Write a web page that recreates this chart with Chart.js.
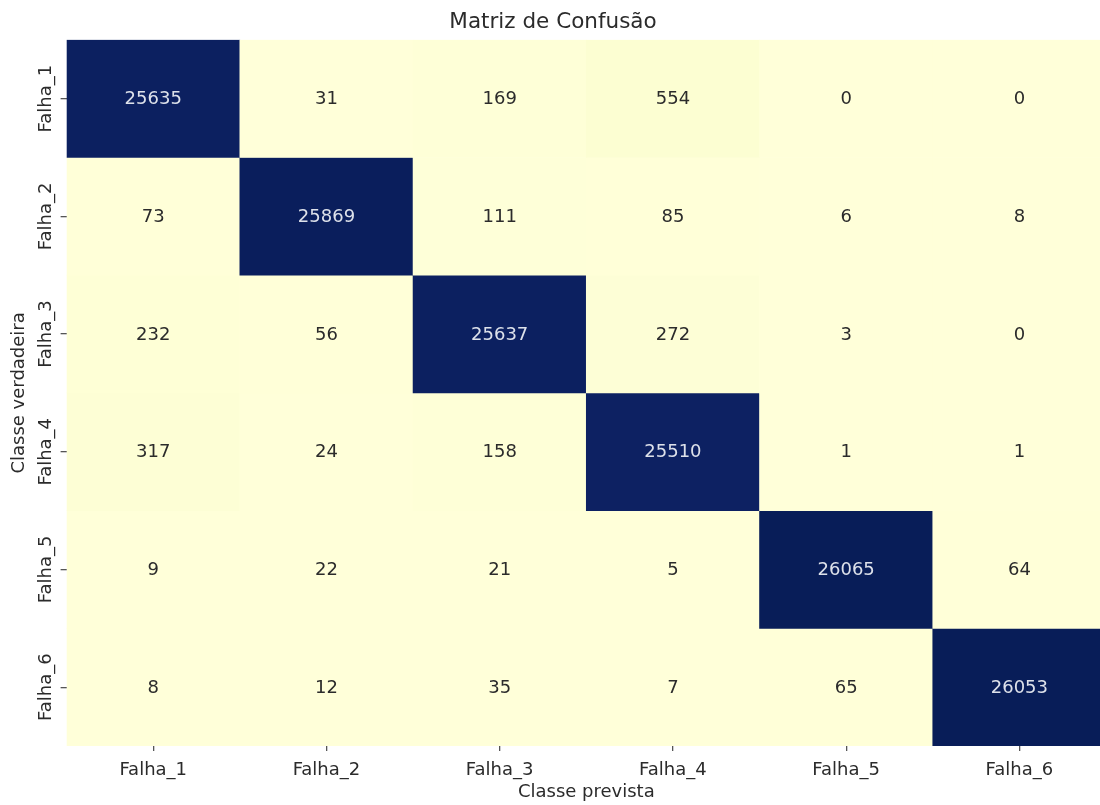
<!DOCTYPE html>
<html>
<head>
<meta charset="utf-8">
<script src="https://cdn.jsdelivr.net/npm/chart.js@4/dist/chart.umd.min.js"></script>
<style>
  html, body { margin: 0; padding: 0; background: #ffffff; overflow: hidden; }
  #wrap { width: 1100px; height: 805px; overflow: hidden; }
  #cm { display: block; }
</style>
</head>
<body>
<div id="wrap"><canvas id="cm" width="1106" height="805"></canvas></div>
<script>
// Class names (rows = true class, columns = predicted class)
const predictedLabels = ["Falha_1", "Falha_2", "Falha_3", "Falha_4", "Falha_5", "Falha_6"];
const trueLabels = ["Falha_1", "Falha_2", "Falha_3", "Falha_4", "Falha_5", "Falha_6"];

// Confusion counts, one array per true class
const rowFalha1 = [25635, 31, 169, 554, 0, 0];
const rowFalha2 = [73, 25869, 111, 85, 6, 8];
const rowFalha3 = [232, 56, 25637, 272, 3, 0];
const rowFalha4 = [317, 24, 158, 25510, 1, 1];
const rowFalha5 = [9, 22, 21, 5, 26065, 64];
const rowFalha6 = [8, 12, 35, 7, 65, 26053];

const matrix = [rowFalha1, rowFalha2, rowFalha3, rowFalha4, rowFalha5, rowFalha6];

// YlGnBu colour ramp
const ylGnBu = [
  [255, 255, 217], [237, 248, 177], [199, 233, 180], [127, 205, 187],
  [65, 182, 196], [29, 145, 192], [34, 94, 168], [37, 52, 148], [8, 29, 88]
];
const vMin = 0;
const vMax = Math.max(...matrix.flat());

function rampColor(v) {
  let t = (v - vMin) / (vMax - vMin);
  t = Math.min(1, Math.max(0, t));
  const pos = t * (ylGnBu.length - 1);
  const i = Math.min(Math.floor(pos), ylGnBu.length - 2);
  const f = pos - i;
  const a = ylGnBu[i], b = ylGnBu[i + 1];
  const c = a.map((x, k) => Math.round(x + (b[k] - x) * f));
  return `rgb(${c[0]},${c[1]},${c[2]})`;
}
function isDark(v) {
  return (v - vMin) / (vMax - vMin) > 0.5;
}

const FONT = "'DejaVu Sans', 'Liberation Sans', sans-serif";
const TEXT = '#2b2b2b';

// One floating-bar dataset per true class, spanning [row, row + 1] on the y scale
const datasets = matrix.map((row, r) => ({
  label: trueLabels[r],
  data: row.map(() => [r, r + 1]),
  backgroundColor: row.map(rampColor),
  borderWidth: 0,
  barPercentage: 1.0,
  categoryPercentage: 1.0,
  grouped: false
}));

// Writes each count in the middle of its cell
const cellText = {
  id: 'cellText',
  afterDatasetsDraw(chart) {
    const ctx = chart.ctx;
    ctx.save();
    ctx.font = `18px ${FONT}`;
    ctx.textAlign = 'center';
    ctx.textBaseline = 'middle';
    matrix.forEach((row, r) => {
      const meta = chart.getDatasetMeta(r);
      row.forEach((v, c) => {
        const el = meta.data[c];
        const cy = (el.y + el.base) / 2;
        ctx.fillStyle = isDark(v) ? '#dde1ea' : TEXT;
        ctx.fillText(String(v), el.x, cy + 1);
      });
    });
    ctx.restore();
  }
};

// Vertical labels of the true classes, placed at the y scale ticks
const rowLabels = {
  id: 'rowLabels',
  afterDraw(chart) {
    const ctx = chart.ctx;
    const ys = chart.scales.y;
    ctx.save();
    ctx.font = `18px ${FONT}`;
    ctx.fillStyle = TEXT;
    ctx.textAlign = 'center';
    ctx.textBaseline = 'middle';
    ys.ticks.forEach((t, i) => {
      const y = ys.getPixelForValue(t.value);
      ctx.save();
      ctx.translate(ys.right - 20, y);
      ctx.rotate(-Math.PI / 2);
      ctx.fillText(trueLabels[i], 0, 0);
      ctx.restore();
    });
    ctx.restore();
  }
};

new Chart(document.getElementById('cm'), {
  type: 'bar',
  data: { labels: predictedLabels, datasets },
  plugins: [cellText, rowLabels],
  options: {
    responsive: false,
    animation: false,
    events: [],
    layout: { padding: { left: 0, right: 0, top: 0, bottom: 4 } },
    plugins: {
      legend: { display: false },
      tooltip: { enabled: false },
      title: {
        display: true,
        text: 'Matriz de Confusão',
        color: TEXT,
        font: { family: FONT, size: 21.5, weight: 'normal' },
        padding: { top: 10, bottom: 4 }
      }
    },
    scales: {
      x: {
        type: 'category',
        offset: true,
        border: { display: false },
        grid: { display: true, drawOnChartArea: false, drawTicks: true, tickLength: 5, offset: false, color: '#555', lineWidth: 1.3 },
        ticks: { color: TEXT, font: { family: FONT, size: 18, lineHeight: 1 }, padding: 10, maxRotation: 0 },
        title: { display: true, text: 'Classe prevista', color: TEXT, font: { family: FONT, size: 18, lineHeight: 1 }, padding: { top: -6, bottom: 0 } }
      },
      y: {
        type: 'linear',
        min: 0,
        max: 6,
        reverse: true,
        afterBuildTicks(scale) {
          scale.ticks = trueLabels.map((_, i) => ({ value: i + 0.5 }));
        },
        border: { display: false },
        grid: { display: true, drawOnChartArea: false, drawTicks: true, tickLength: 6, color: '#555', lineWidth: 1.3 },
        ticks: { display: false },
        title: { display: true, text: 'Classe verdadeira', color: TEXT, font: { family: FONT, size: 18 }, padding: { top: 9, bottom: 30 } }
      }
    }
  }
});
</script>
</body>
</html>
